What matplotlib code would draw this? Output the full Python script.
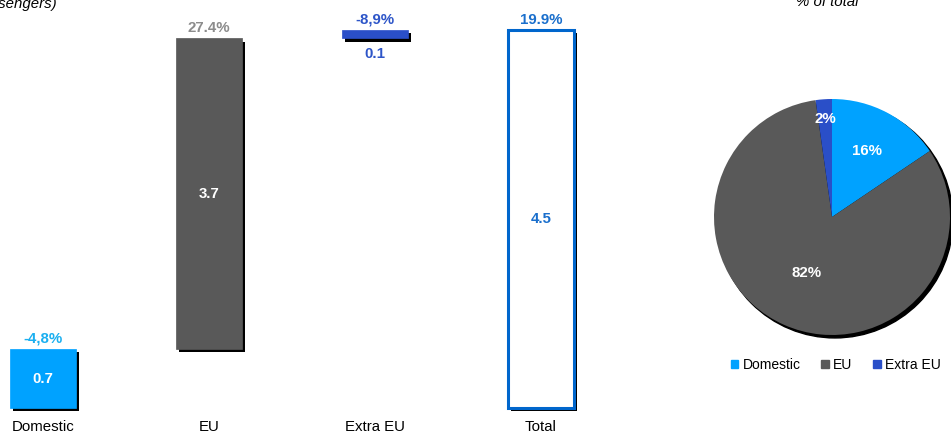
import matplotlib
matplotlib.use("Agg")
import matplotlib.pyplot as plt
import matplotlib.patheffects as pe
from matplotlib.patches import Patch, Circle
import numpy as np

plt.rcParams['font.family'] = ['Liberation Sans', 'DejaVu Sans']

# data
categories = ['Domestic', 'EU', 'Extra EU', 'Total']
values = [0.7, 3.7, 0.1, 4.5]
growth = ['-4,8%', '27.4%', '-8,9%', '19.9%']
pie_labels = ['Domestic', 'EU', 'Extra EU']
pie_values = [0.7, 3.7, 0.1]

c_dom = '#00A2FF'
c_eu = '#595959'
c_xeu = '#2A4FC8'
c_tot = '#0066CC'
fs = 10.8

W, H = 951, 434
fig = plt.figure(figsize=(W / 100, H / 100), dpi=100)

# waterfall axes, mapped in pixels
px0, px1 = 0, 640
spacing = 166.0
x0c = 43.0
unit = 84.0
ybot = 408.0
ax = fig.add_axes([px0 / W, (H - ybot) / H, (px1 - px0) / W, ybot / H])
ax.set_xlim((px0 - x0c) / spacing, (px1 - x0c) / spacing)
ax.set_ylim(0, ybot / unit)
ax.axis('off')

shadow = [pe.SimplePatchShadow(offset=(2.3, -2.3), shadow_rgbFace='black', alpha=1), pe.Normal()]

x = np.arange(len(categories))
bottoms = [0, values[0], values[0] + values[1], 0]
faces = [c_dom, c_eu, c_xeu, 'white']
edges = [c_dom, c_eu, c_xeu, c_tot]
bars = ax.bar(x, values, width=0.4, bottom=bottoms, color=faces, edgecolor=edges,
              linewidth=[0.5, 0.5, 0.5, 2.2])
for b in bars:
    b.set_path_effects(shadow)
    b.set_clip_on(False)

top_cols = ['#1AAFF0', '#8C8C8C', '#2D55C8', '#1A6FCC']
for i in range(len(categories)):
    top = bottoms[i] + values[i]
    ax.annotate(growth[i], (x[i], top), xytext=(0, 2.5), textcoords='offset points',
                ha='center', va='bottom', fontsize=fs, fontweight='bold', color=top_cols[i])

val_cols = ['white', 'white', '#2D55C8', '#1A6FCC']
for i in [0, 1, 3]:
    ax.text(x[i], bottoms[i] + values[i] / 2, f'{values[i]:.1f}', ha='center', va='center',
            fontsize=fs, fontweight='bold', color=val_cols[i])
ax.annotate(f'{values[2]:.1f}', (x[2], bottoms[2]), xytext=(0, -6), textcoords='offset points',
            ha='center', va='top', fontsize=fs, fontweight='bold', color=val_cols[2])

for i, c in enumerate(categories):
    ax.annotate(c, (x[i], 0), xytext=(0, -8.5), textcoords='offset points',
                ha='center', va='top', fontsize=fs, color='black', annotation_clip=False)

# pie
cx, cy, r = 832.0, 217.0, 118.0
pax = fig.add_axes([(cx - r) / W, (H - cy - r) / H, 2 * r / W, 2 * r / H])
pax.add_patch(Circle((0.025, -0.025), 1.0, color='black', zorder=0, clip_on=False))
wedges, _ = pax.pie(pie_values, colors=[c_dom, c_eu, c_xeu], startangle=90, counterclock=False,
                    radius=1, wedgeprops=dict(linewidth=0))
for w in wedges:
    w.set_clip_on(False)
pax.set_xlim(-1, 1)
pax.set_ylim(-1, 1)
pax.set_aspect('auto')
pax.axis('off')
tot = sum(pie_values)
dists = [0.63, 0.52, 0.83]
for w, v, d in zip(wedges, pie_values, dists):
    ang = np.deg2rad((w.theta1 + w.theta2) / 2)
    pax.text(d * np.cos(ang), d * np.sin(ang), f'{v / tot * 100:.0f}%', ha='center', va='center',
             fontsize=fs, fontweight='bold', color='white')

handles = [Patch(color=c) for c in [c_dom, c_eu, c_xeu]]
fig.legend(handles, pie_labels, loc='center', bbox_to_anchor=(836 / W, 1 - 365 / H), ncol=3,
           frameon=False, fontsize=10, handlelength=0.55, handleheight=0.55, handletextpad=0.3,
           columnspacing=1.5)

# titles (cut off at top of image, as in the source)
fig.text(57 / W, 1 - 8 / H, '(Million passengers)', ha='right', va='baseline',
         fontsize=fs, style='italic')
fig.text(827 / W, 1 - 6 / H, '% of total', ha='center', va='baseline',
         fontsize=fs, style='italic')

fig.savefig('out.png', dpi=100)
